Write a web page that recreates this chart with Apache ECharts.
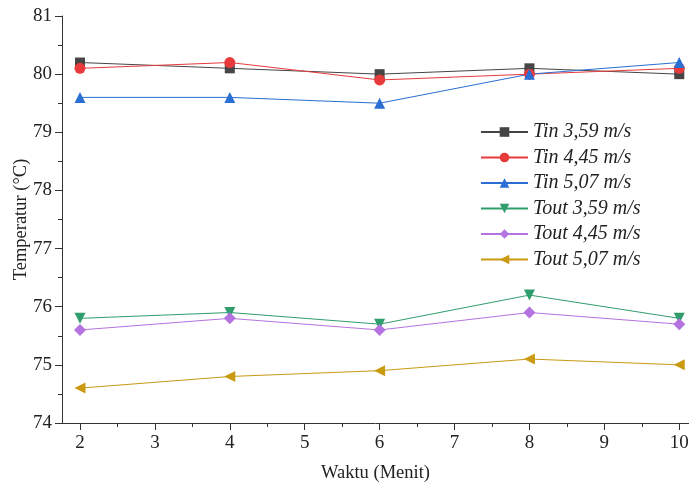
<!DOCTYPE html>
<html>
<head>
<meta charset="utf-8">
<script src="https://cdn.jsdelivr.net/npm/echarts@6/dist/echarts.min.js"></script>
<style>
  html, body { margin: 0; padding: 0; background: #fff; }
  #chart { width: 689px; height: 484px; }
</style>
</head>
<body>
<div id="chart"></div>
<script>
const FONT = 'Liberation Serif';

const minutes = [2, 4, 6, 8, 10];
const xTicks = [2, 3, 4, 5, 6, 7, 8, 9, 10];
const xMinorTicks = [2.5, 3.5, 4.5, 5.5, 6.5, 7.5, 8.5, 9.5];

const tin359 = [80.2, 80.1, 80.0, 80.1, 80.0];
const tin445 = [80.1, 80.2, 79.9, 80.0, 80.1];
const tin507 = [79.6, 79.6, 79.5, 80.0, 80.2];
const tout359 = [75.8, 75.9, 75.7, 76.2, 75.8];
const tout445 = [75.6, 75.8, 75.6, 75.9, 75.7];
const tout507 = [74.6, 74.8, 74.9, 75.1, 75.0];

const seriesDefs = [
    { name: 'Tin 3,59 m/s', data: tin359, color: '#454545', symbol: 'rect', rotate: 0, size: 10 },
    { name: 'Tin 4,45 m/s', data: tin445, color: '#e8393b', symbol: 'circle', rotate: 0, size: 11 },
    { name: 'Tin 5,07 m/s', data: tin507, color: '#2a6fd3', symbol: 'triangle', rotate: 0, size: 11 },
    { name: 'Tout 3,59 m/s', data: tout359, color: '#2f9d6c', symbol: 'triangle', rotate: 180, size: 11 },
    { name: 'Tout 4,45 m/s', data: tout445, color: '#b473e0', symbol: 'diamond', rotate: 0, size: 12 },
    { name: 'Tout 5,07 m/s', data: tout507, color: '#c99a12', symbol: 'triangle', rotate: 90, size: 11 },
];

const axisColor = '#333';
const textColor = '#222';

const option = {
    backgroundColor: '#fff',
    animation: false,
    grid: { left: 62, right: 0, top: 16, bottom: 61, outerBoundsMode: 'none' },
    legend: {
        orient: 'vertical',
        left: 475,
        top: 117,
        itemWidth: 47,
        itemHeight: 12,
        itemGap: 5.5,
        textStyle: { fontFamily: FONT, fontStyle: 'italic', fontSize: 20, color: textColor, lineHeight: 20 },
    },
    xAxis: [
        {
            type: 'value',
            min: 1.76,
            max: 10.13,
            name: 'Waktu (Menit)',
            nameLocation: 'middle',
            nameGap: 41,
            nameTextStyle: { fontFamily: FONT, fontSize: 18.5, color: textColor },
            axisLine: { lineStyle: { color: axisColor, width: 1 } },
            axisTick: { customValues: xTicks, length: 7, lineStyle: { color: axisColor } },
            axisLabel: { customValues: xTicks, margin: 11, fontFamily: FONT, fontSize: 19, color: textColor },
            splitLine: { show: false },
        },
        {
            type: 'value',
            min: 1.76,
            max: 10.13,
            position: 'bottom',
            axisLine: { show: false },
            axisTick: { customValues: xMinorTicks, length: 4, lineStyle: { color: axisColor } },
            axisLabel: { show: false },
            splitLine: { show: false },
        },
    ],
    yAxis: {
        type: 'value',
        min: 74,
        max: 81,
        interval: 1,
        name: 'Temperatur (°C)',
        nameLocation: 'middle',
        nameGap: 31,
        nameMoveOverlap: false,
        nameTextStyle: { fontFamily: FONT, fontSize: 18.5, color: textColor },
        axisLine: { show: true, lineStyle: { color: axisColor, width: 1 } },
        axisTick: { show: true, length: 7, lineStyle: { color: axisColor } },
        minorTick: { show: true, splitNumber: 2, length: 4, lineStyle: { color: axisColor } },
        axisLabel: { margin: 10, fontFamily: FONT, fontSize: 19, color: textColor },
        splitLine: { show: false },
    },
    series: seriesDefs.map((s) => ({
        name: s.name,
        type: 'line',
        xAxisIndex: 0,
        data: minutes.map((m, i) => [m, s.data[i]]),
        symbol: s.symbol,
        symbolSize: s.size,
        symbolRotate: s.rotate,
        itemStyle: { color: s.color },
        lineStyle: { color: s.color, width: 1 },
    })),
};

const chart = echarts.init(document.getElementById('chart'), null, { renderer: 'canvas' });
chart.setOption(option);
</script>
</body>
</html>
